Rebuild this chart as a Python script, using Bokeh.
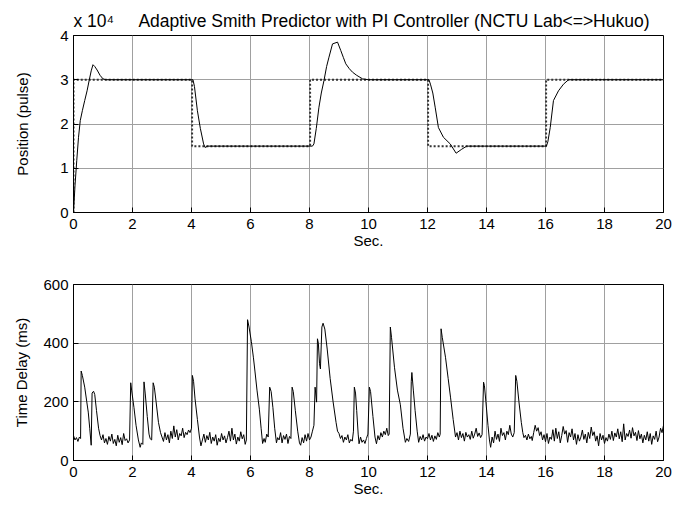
from bokeh.plotting import figure
from bokeh.layouts import column
from bokeh.models import FixedTicker, Range1d
from bokeh.embed import file_html
from bokeh.resources import INLINE

# ---------------- data ----------------
# reference position (dotted), units of 1e4 pulses
ref_t = [0, 0, 4.02, 4.02, 8.02, 8.02, 12.02, 12.02, 16.02, 16.02, 20]
ref_v = [0, 3.0, 3.0, 1.5, 1.5, 3.0, 3.0, 1.5, 1.5, 3.0, 3.0]

# measured position (solid), units of 1e4 pulses
pos_t = [0, 0.05, 0.11, 0.17, 0.23, 0.3, 0.38, 0.46, 0.53, 0.6, 0.66, 0.72, 0.8, 0.9, 1.0, 1.1,
         4.05, 4.1, 4.2, 4.3, 4.41, 4.46, 4.55,
         8.1, 8.15, 8.23, 8.32, 8.4, 8.49, 8.58, 8.66, 8.78, 8.95, 9.06, 9.15, 9.23, 9.35, 9.46, 9.6, 9.8, 10.0,
         12.05, 12.1, 12.18, 12.26, 12.37, 12.54, 12.77, 12.97, 13.16, 13.33,
         16.03, 16.08, 16.16, 16.27, 16.44, 16.61, 16.78, 20]
pos_v = [0, 0.6, 1.17, 1.7, 2.08, 2.3, 2.53, 2.75, 2.98, 3.2, 3.34, 3.3, 3.22, 3.1, 3.02, 3.0,
         3.0, 2.85, 2.3, 1.9, 1.55, 1.47, 1.5,
         1.5, 1.55, 1.9, 2.38, 2.7, 2.98, 3.3, 3.51, 3.81, 3.85, 3.66, 3.5, 3.36, 3.25, 3.17, 3.1, 3.02, 3.0,
         3.0, 2.9, 2.7, 2.38, 1.92, 1.7, 1.55, 1.34, 1.43, 1.5,
         1.5, 1.6, 1.92, 2.53, 2.75, 2.9, 3.0, 3.0]

# time delay (ms)
td_t = [0, 0.05, 0.1, 0.15, 0.2, 0.24,
        0.26, 0.3, 0.38, 0.45, 0.5, 0.55, 0.6,
        0.63, 0.68, 0.72, 0.78, 0.85, 0.9,
        0.95, 1.0, 1.05, 1.1, 1.15, 1.2, 1.25, 1.3, 1.35, 1.4, 1.45, 1.5, 1.55, 1.6, 1.65, 1.7, 1.75, 1.8, 1.85, 1.9,
        1.94, 1.97, 2.05, 2.12, 2.2, 2.26, 2.3, 2.35,
        2.39, 2.43, 2.5, 2.56, 2.6, 2.65,
        2.7, 2.74, 2.8, 2.88, 2.95, 3.0,
        3.05, 3.1, 3.15, 3.2, 3.25, 3.3, 3.35, 3.4, 3.45, 3.5, 3.55, 3.6, 3.65, 3.7, 3.75, 3.8, 3.85, 3.9, 3.95, 4.0,
        4.03, 4.07, 4.12, 4.2, 4.27, 4.32, 4.37,
        4.42, 4.47, 4.52, 4.57, 4.62, 4.67, 4.72, 4.77, 4.82, 4.87, 4.92, 4.97, 5.02, 5.07, 5.12, 5.17, 5.22,
        5.27, 5.32, 5.37, 5.42, 5.47, 5.52, 5.57, 5.62, 5.67, 5.72, 5.77, 5.82, 5.86,
        5.9, 5.95, 6.03, 6.1, 6.15, 6.22, 6.3, 6.36, 6.41, 6.46, 6.5, 6.55, 6.6,
        6.65, 6.7, 6.76, 6.82, 6.88, 6.92, 6.97, 7.02, 7.07, 7.12, 7.17, 7.22, 7.27, 7.32, 7.37,
        7.41, 7.45, 7.52, 7.6, 7.66, 7.7, 7.75, 7.8, 7.85, 7.9, 7.95, 8.0, 8.05, 8.1, 8.15,
        8.19, 8.24, 8.27, 8.3, 8.34, 8.37, 8.42, 8.46, 8.52, 8.6, 8.7, 8.8, 8.9, 8.95, 9.0,
        9.05, 9.1, 9.15, 9.2, 9.25, 9.3, 9.35, 9.4, 9.45, 9.49,
        9.52, 9.56, 9.6, 9.65, 9.68, 9.73, 9.78, 9.83, 9.88, 9.93, 9.98,
        10.03, 10.07, 10.15, 10.22, 10.27, 10.32, 10.37, 10.42, 10.47, 10.52, 10.57, 10.62, 10.67, 10.7,
        10.74, 10.78, 10.88, 10.98, 11.08, 11.17, 11.25, 11.3, 11.36, 11.42,
        11.45, 11.47, 11.52, 11.58, 11.65, 11.7, 11.75, 11.8, 11.85, 11.9, 11.95, 12.0, 12.05, 12.1, 12.15,
        12.2, 12.25, 12.3, 12.35, 12.4, 12.43,
        12.46, 12.5, 12.61, 12.7, 12.78, 12.87, 12.95, 13.0, 13.05, 13.1, 13.15, 13.2, 13.25, 13.3, 13.35,
        13.4, 13.45, 13.5, 13.55, 13.6, 13.65, 13.7, 13.75, 13.8, 13.85,
        13.9, 13.93, 13.98, 14.05, 14.1, 14.14, 14.19, 14.24, 14.29, 14.34, 14.39, 14.44, 14.49, 14.54,
        14.59, 14.64, 14.69, 14.74, 14.79, 14.84, 14.89, 14.94,
        14.99, 15.03, 15.1, 15.18, 15.23, 15.27, 15.32, 15.37, 15.42, 15.47, 15.52,
        15.55, 15.6, 15.65, 15.7, 15.75, 15.8, 15.85, 15.9, 15.95, 16.0, 16.05, 16.1, 16.15, 16.2, 16.25,
        16.3, 16.35, 16.4, 16.45, 16.5, 16.55, 16.6, 16.65, 16.7, 16.75, 16.8, 16.85, 16.9, 16.95, 17.0,
        17.05, 17.1, 17.15, 17.2, 17.25, 17.3, 17.35, 17.4, 17.45, 17.5, 17.55, 17.6, 17.65, 17.7, 17.75,
        17.8, 17.85, 17.9, 17.95, 18.0, 18.05, 18.1, 18.15, 18.2, 18.25, 18.3, 18.35, 18.4, 18.45, 18.5,
        18.55, 18.6, 18.65, 18.7, 18.75, 18.8, 18.85, 18.9, 18.95, 19.0, 19.05, 19.1, 19.15, 19.2, 19.25,
        19.3, 19.35, 19.4, 19.45, 19.5, 19.55, 19.6, 19.65, 19.7, 19.75, 19.8, 19.85, 19.9, 19.95, 20.0]
td_v = [85, 70, 78, 65, 80, 75,
        305, 290, 250, 200, 165, 110, 52,
        230, 236, 225, 170, 110, 85,
        70, 88, 60, 75, 55, 82, 66, 90, 58, 72, 50, 86, 62, 78, 54, 92, 68, 74, 60, 70,
        265, 240, 180, 120, 70, 45, 60, 55,
        268, 230, 150, 90, 74, 70,
        265, 250, 200, 130, 95, 80,
        65, 95, 70, 88, 60, 100, 75, 118, 80, 105, 70, 92, 84, 110, 78, 96, 88, 104, 95, 110,
        290, 270, 210, 140, 80, 50, 70,
        90, 62, 85, 70, 96, 58, 80, 66, 88, 52, 76, 64, 92, 70, 84, 60, 78,
        100, 66, 110, 70, 90, 56, 80, 66, 98, 74, 88, 55, 70,
        480, 455, 405, 350, 305, 240, 175, 110, 58, 75, 62, 90, 80,
        250, 235, 180, 110, 60, 78, 70, 95, 60, 85, 72, 90, 58, 82, 75,
        250, 235, 170, 100, 60, 52, 78, 60, 88, 66, 92, 70, 80, 100, 120,
        250, 199, 415, 400, 330, 312, 455, 468, 448, 380, 280, 200, 130, 100, 92,
        75, 85, 62, 80, 70, 88, 60, 72, 66, 100,
        250, 230, 170, 90, 57, 80, 62, 70, 58, 75, 90,
        250, 235, 150, 80, 57, 85, 70, 95, 80, 100, 88, 110, 85, 90,
        455, 420, 318, 240, 190, 110, 62, 75, 65, 90,
        270, 300, 240, 170, 100, 62, 82, 70, 88, 66, 80, 74, 92, 70, 86,
        65, 84, 72, 95, 80, 90,
        449, 420, 352, 280, 216, 140, 80, 95, 70, 100, 78, 92, 66, 96, 80,
        88, 72, 100, 76, 90, 110, 82, 94, 78, 88,
        267, 255, 200, 120, 70, 45, 80, 60, 100, 72, 90, 65, 110, 85,
        95, 70, 100, 88, 120, 90, 80, 95,
        290, 270, 200, 130, 95, 78, 86, 70, 90, 74, 82,
        68, 95, 120, 100, 112, 85, 98, 70, 88, 64, 92, 58, 80, 72, 105,
        66, 110, 75, 98, 60, 85, 116, 90, 102, 62, 95, 80, 108, 70, 92,
        55, 88, 66, 80, 104, 72, 90, 60, 96, 75, 114, 85, 98, 66, 84,
        50, 92, 70, 86, 58, 78, 66, 90, 72, 100, 68, 94, 80, 108, 74,
        98, 64, 125, 70, 92, 82, 104, 76, 112, 84, 96, 68, 102, 74, 90,
        60, 86, 70, 98, 66, 92, 55, 84, 72, 100, 64, 80, 110, 95, 120]

x_ticks = [0, 2, 4, 6, 8, 10, 12, 14, 16, 18, 20]
pos_ticks = [0, 1, 2, 3, 4]
td_ticks = [0, 200, 400, 600]

exponent_text = "x 10\u2074"
title_text = "Adaptive Smith Predictor with PI Controller (NCTU Lab<=>Hukuo)"
FONT = "Liberation Sans"
FS = "15px"


def style(p, ylabel, ystand, yticks):
    p.outline_line_color = "black"
    p.outline_line_width = 1
    for ax in (p.xaxis[0], p.yaxis[0]):
        ax.axis_line_color = "black"
        ax.major_tick_in = 5
        ax.major_tick_out = 0
        ax.minor_tick_line_color = None
        ax.major_label_text_font = FONT
        ax.major_label_text_font_size = FS
        ax.major_label_text_color = "black"
        ax.axis_label_text_font = FONT
        ax.axis_label_text_font_size = FS
        ax.axis_label_text_font_style = "normal"
        ax.axis_label_text_color = "black"
    p.xaxis[0].ticker = FixedTicker(ticks=x_ticks)
    p.xaxis[0].axis_label = "Sec."
    p.xaxis[0].major_label_standoff = 6
    p.xaxis[0].axis_label_standoff = 0
    p.yaxis[0].ticker = FixedTicker(ticks=yticks)
    p.yaxis[0].axis_label = ylabel
    p.yaxis[0].major_label_standoff = 5
    p.yaxis[0].axis_label_standoff = ystand
    p.grid.grid_line_color = "#a0a0a0"
    p.grid.grid_line_width = 1
    p.background_fill_color = "white"
    p.border_fill_color = "white"


top = figure(width=676, height=253, output_backend="svg", toolbar_location=None,
             x_range=Range1d(0, 20), y_range=Range1d(0, 4),
             min_border_left=73, min_border_right=13, min_border_top=35, min_border_bottom=41)
style(top, "Position (pulse)", 26, pos_ticks)
top.line(ref_t, ref_v, line_color="#333333", line_width=2, line_dash="2 2")
top.line(pos_t, pos_v, line_color="black", line_width=1)

sp = "\u00a0" * 5
top.title.text = exponent_text + sp + title_text
top.title.align = "left"
top.title.offset = 0
top.title.standoff = 9
top.title.text_font = FONT
top.title.text_font_size = "17.5px"
top.title.text_font_style = "normal"
top.title.text_color = "black"

bot = figure(width=676, height=253, output_backend="svg", toolbar_location=None,
             x_range=Range1d(0, 20), y_range=Range1d(0, 600),
             min_border_left=73, min_border_right=13, min_border_top=31, min_border_bottom=46)
style(bot, "Time Delay (ms)", 10, td_ticks)
bot.line(td_t, td_v, line_color="black", line_width=1)

layout = column(top, bot, spacing=0)
open("out.html", "w").write(file_html(layout, INLINE))
